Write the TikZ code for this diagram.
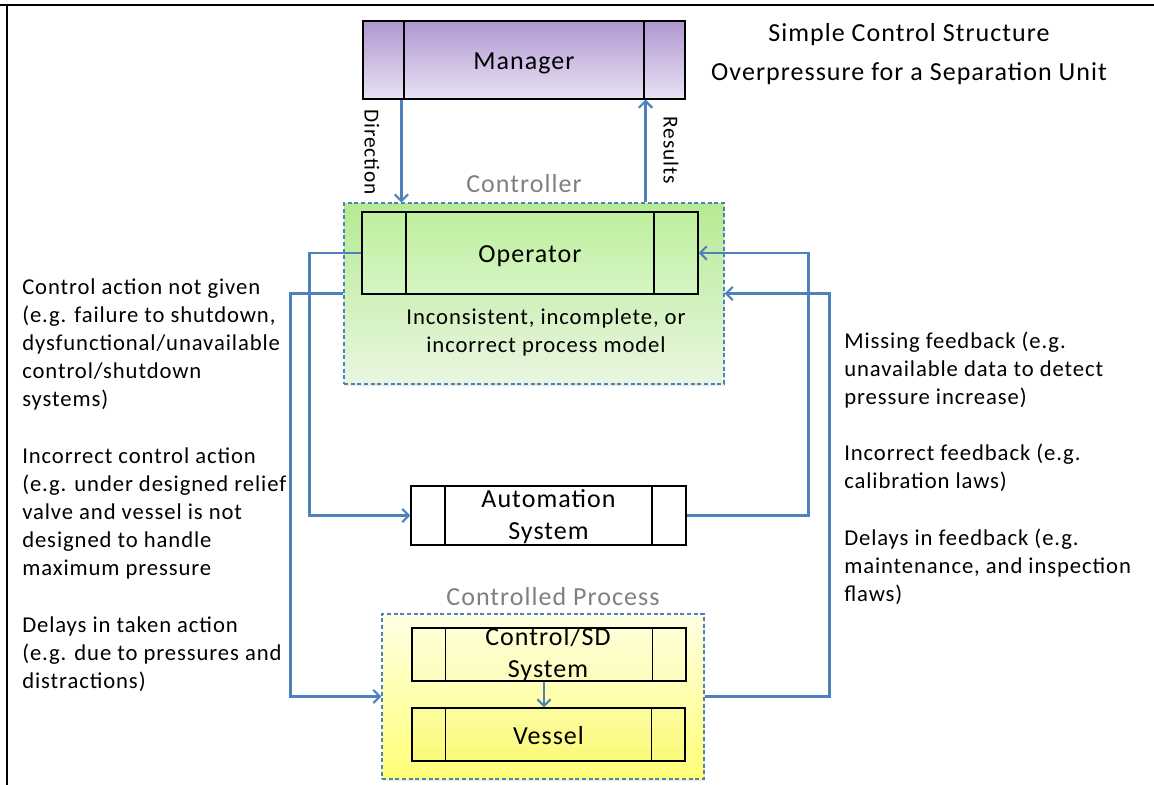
\documentclass[tikz,border=0pt]{standalone}
\usepackage{fontspec}
\setmainfont{Carlito}[LetterSpace=4]
\usetikzlibrary{arrows.meta,calc,shadows}
\definecolor{flowblue}{RGB}{79,129,189}
\definecolor{labelgray}{RGB}{128,128,128}
\tikzset{
  procbox/.style={draw=black, line width=0.9pt, inner sep=0pt,
    path picture={\draw[line width=0.9pt]
      ([xshift=#1]path picture bounding box.north west) -- ([xshift=#1]path picture bounding box.south west)
      ([xshift=-#1]path picture bounding box.north east) -- ([xshift=-#1]path picture bounding box.south east);}},
  groupbox/.style={draw=flowblue, line width=0.8pt, dash pattern=on 3pt off 2pt, inner sep=0pt,
    drop shadow={opacity=0.18, shadow xshift=1pt, shadow yshift=-1.5pt}},
  flow/.style={draw=flowblue, line width=1.9pt, -{Straight Barb[length=5pt,width=10pt,line width=1.6pt]}},
  boxlabel/.style={inner sep=0pt, align=center, font=\fontsize{19.5}{24}\selectfont},
  sidetext/.style={inner sep=0pt, anchor=north west, align=left, font=\fontsize{17}{21}\selectfont},
  grouplabel/.style={inner sep=0pt, text=labelgray, font=\fontsize{19.5}{22}\selectfont},
  sidelabel/.style={inner sep=0pt, rotate=-90, font=\fontsize{16}{19}\selectfont},
}
\begin{document}
\begin{tikzpicture}[x=0.75pt,y=-0.75pt]
\useasboundingbox (0,0) rectangle (1154,785);
% frame lines along the top and left edge
\draw[line width=2.2pt] (0,5) -- (1154,5);
\draw[line width=2.2pt] (7,5) -- (7,785);

% title
\node[inner sep=0pt, anchor=north, align=center, font=\fontsize{19.5}{29.25}\selectfont]
  (title) at (909,23) {Simple Control Structure\\Overpressure for a Separation Unit};

% manager
\node[procbox=30.75pt, minimum width=241.5pt, minimum height=58.5pt,
      top color={rgb,255:red,176;green,150;blue,210}, bottom color={rgb,255:red,233;green,226;blue,243}]
  (mgr) at (524,60) {};
\node[boxlabel] (mgrtext) at (524,63) {Manager};

% controller group
\node[groupbox, minimum width=285pt, minimum height=135.75pt,
      top color={rgb,255:red,182;green,234;blue,146}, bottom color={rgb,255:red,233;green,247;blue,226}]
  (ctrl) at (534,293.5) {};
\node[grouplabel] (ctrltext) at (524,184) {Controller};
\node[procbox=33pt, minimum width=252pt, minimum height=61.5pt,
      top color={rgb,255:red,190;green,239;blue,158}, bottom color={rgb,255:red,214;green,245;blue,196}]
  (op) at (530,253) {};
\node[boxlabel] (optext) at (530,256) {Operator};
\node[inner sep=0pt, align=center, font=\fontsize{17}{21}\selectfont]
  (model) at (546,332) {Inconsistent, incomplete, or\\incorrect process model};

% automation
\node[procbox=25.5pt, minimum width=206.25pt, minimum height=44.25pt, fill=white]
  (auto) at (548.5,515.5) {};
\node[boxlabel] (autotext) at (548.5,517) {Automation\\System};

% controlled process group
\node[groupbox, minimum width=241.5pt, minimum height=123.75pt,
      top color={rgb,255:red,255;green,255;blue,228}, bottom color={rgb,255:red,255;green,255;blue,118}]
  (proc) at (543,696.5) {};
\node[grouplabel] (proctext) at (553,597) {Controlled Process};
\node[procbox=25pt, minimum width=205.5pt, minimum height=39.75pt,
      top color={rgb,255:red,255;green,255;blue,214}, bottom color={rgb,255:red,252;green,252;blue,188}]
  (ctlsd) at (549,654.5) {};
\node[boxlabel] (ctlsdtext) at (548,655) {Control/SD\\System};
\node[procbox=25pt, minimum width=204.75pt, minimum height=39.75pt,
      top color={rgb,255:red,252;green,252;blue,160}, bottom color={rgb,255:red,250;green,250;blue,122}]
  (vessel) at (548.5,734.5) {};
\node[boxlabel] (vesseltext) at (548.5,735.5) {Vessel};

% manager <-> operator
\coordinate (dirtop) at ($(mgr.south west)+(39,0)$);
\coordinate (restop) at ($(mgr.south east)+(-40,0)$);
\draw[flow] (dirtop) -- (dirtop |- ctrl.north);
\draw[flow] (restop |- ctrl.north) -- (restop);
\node[sidelabel] (dirtext) at (372,152) {Direction};
\node[sidelabel] (restext) at (671,150) {Results};

% control actions
\draw[flow] (op.west) -- ++(-52,0) |- (auto.west);
\draw[flow] (ctrl.west) -- ++(-53,0) |- (proc.west);
\coordinate (sdout) at ($(ctlsd.south)+(-5,0)$);
\draw[flow, line width=1.5pt] (sdout) -- (sdout |- vessel.north);

% feedback
\draw[flow] (auto.east) -- ++(122,0) |- (op.east);
\draw[flow] (proc.east) -- ++(125,0) |- (ctrl.east);

% hazards on the control-action side
\node[sidetext] (ca1) at (22,278) {Control action not given\\(e.g. failure to shutdown,\\dysfunctional/unavailable\\control/shutdown\\systems)};
\node[sidetext] (ca2) at (22,447) {Incorrect control action\\(e.g. under designed relief\\valve and vessel is not\\designed to handle\\maximum pressure};
\node[sidetext] (ca3) at (22,616) {Delays in taken action\\(e.g. due to pressures and\\distractions)};

% hazards on the feedback side
\node[sidetext] (fb1) at (844,332) {Missing feedback (e.g.\\unavailable data to detect\\pressure increase)};
\node[sidetext] (fb2) at (844,444) {Incorrect feedback (e.g.\\calibration laws)};
\node[sidetext] (fb3) at (844,529) {Delays in feedback (e.g.\\maintenance, and inspection\\flaws)};
\end{tikzpicture}
\end{document}
